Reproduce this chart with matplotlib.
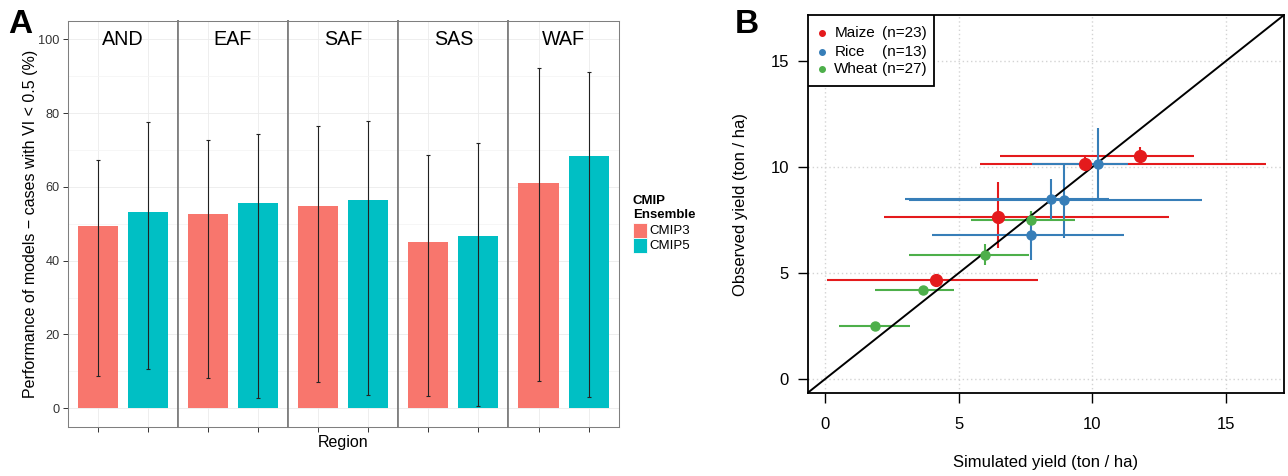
import numpy as np
import matplotlib
matplotlib.use("Agg")
import matplotlib.pyplot as plt
from matplotlib.patches import Rectangle

plt.rcParams['font.family'] = ['Liberation Sans', 'DejaVu Sans']

# panel A: share of models with VI < 0.5 per region
regions = ["AND", "EAF", "SAF", "SAS", "WAF"]
ensembles = ["CMIP3", "CMIP5"]
cmip3 = [49.3, 52.6, 54.9, 45.2, 61.0]
cmip5 = [53.2, 55.7, 56.6, 46.6, 68.4]
cmip3_lo = [8.7, 8.3, 7.0, 3.2, 7.3]
cmip3_hi = [67.4, 72.6, 76.6, 68.8, 92.2]
cmip5_lo = [10.7, 2.7, 3.7, 0.5, 3.1]
cmip5_hi = [77.5, 74.3, 78.0, 72.0, 91.3]
ens_colors = ["#F8766D", "#00BFC4"]

# panel B: simulated vs observed yield (ton / ha)
maize_sim = [11.78, 9.73, 6.46, 4.14]
maize_obs = [10.54, 10.16, 7.64, 4.69]
maize_sim_lo = [6.56, 5.79, 2.22, 0.06]
maize_sim_hi = [13.82, 16.5, 12.86, 7.97]
maize_obs_lo = [10.08, 9.9, 6.19, 4.69]
maize_obs_hi = [10.94, 10.45, 9.28, 4.69]

rice_sim = [10.22, 8.45, 8.92, 7.69]
rice_obs = [10.16, 8.5, 8.43, 6.79]
rice_sim_lo = [7.73, 3.0, 3.13, 3.99]
rice_sim_hi = [11.35, 10.61, 14.1, 11.2]
rice_obs_lo = [8.43, 7.53, 6.65, 5.61]
rice_obs_hi = [11.83, 9.45, 10.16, 7.92]

wheat_sim = [7.7, 5.99, 3.68, 1.86]
wheat_obs = [7.5, 5.87, 4.19, 2.5]
wheat_sim_lo = [5.44, 3.12, 1.86, 0.5]
wheat_sim_hi = [9.35, 7.61, 4.83, 3.19]
wheat_obs_lo = [7.3, 5.4, 4.19, 2.5]
wheat_obs_hi = [7.92, 6.35, 4.19, 2.5]

crops = ["Maize", "Rice", "Wheat"]
crop_n = ["(n=23)", "(n=13)", "(n=27)"]
crop_colors = ["#E41A1C", "#377EB8", "#4DAF4A"]

W, H = 1288, 476
fig = plt.figure(figsize=(W / 100, H / 100), dpi=100)

# ---- panel A: one axes per facet ----
left = 67.5
facet_w = (618.7 - 67.5) / 5
bottom = 1 - 426.7 / H
height = (426.7 - 21) / H
for i, reg in enumerate(regions):
    ax = fig.add_axes([(left + i * facet_w) / W, bottom, facet_w / W, height])
    vals = [cmip3[i], cmip5[i]]
    lo = [cmip3_lo[i], cmip5_lo[i]]
    hi = [cmip3_hi[i], cmip5_hi[i]]
    xs = np.arange(1, 3)
    ax.bar(xs, vals, width=0.8, color=ens_colors, zorder=2)
    yerr = [np.array(vals) - np.array(lo), np.array(hi) - np.array(vals)]
    ax.errorbar(xs, vals, yerr=yerr, fmt="none", ecolor="#222222",
                elinewidth=0.8, capsize=1.3, capthick=0.8, zorder=3)
    ax.set_xlim(0.4, 2.6)
    ax.set_ylim(-5, 105)
    ax.set_yticks(np.arange(0, 101, 20))
    ax.set_yticks(np.arange(10, 100, 20), minor=True)
    ax.set_xticks(xs)
    ax.set_xticklabels([])
    ax.grid(True, which="major", color="#ebebeb", lw=0.6, zorder=0)
    ax.grid(True, which="minor", axis="y", color="#f5f5f5", lw=0.6, zorder=0)
    ax.tick_params(axis="x", length=3.5, color="#333333", width=0.7)
    ax.tick_params(axis="y", which="minor", length=0)
    if i == 0:
        ax.tick_params(axis="y", length=3.5, color="#333333", width=0.7,
                       labelsize=9.2, labelcolor="#333333", pad=2)
    else:
        ax.tick_params(axis="y", length=0, labelleft=False)
    ax.text(1.5, 100, reg, ha="center", va="center", fontsize=14.2, zorder=4)
    for side in ["top", "bottom", "left", "right"]:
        ax.spines[side].set_color("#7f7f7f")
        ax.spines[side].set_linewidth(0.75)
    if i > 0:
        ax.spines["left"].set_linewidth(1.3)
    if i < len(regions) - 1:
        ax.spines["right"].set_linewidth(1.3)

fig.text(343 / W, 1 - 443 / H, "Region", ha="center", va="center", fontsize=11.5)
fig.text(31 / W, 1 - 224 / H, "Performance of models \u2212 cases with VI < 0.5 (%)",
         rotation=90, ha="center", va="center", fontsize=11.5)
fig.text(8 / W, 1 - 33 / H, "A", fontsize=24, fontweight="bold", va="baseline")

# legend for panel A
fig.text(632.7 / W, 1 - 204 / H, "CMIP", fontsize=9.5, fontweight="bold", va="baseline")
fig.text(632.7 / W, 1 - 218 / H, "Ensemble", fontsize=9.5, fontweight="bold", va="baseline")
for k, (lab, col) in enumerate(zip(ensembles, ens_colors)):
    y0 = 223.3 + k * 15
    fig.add_artist(Rectangle((632.7 / W, 1 - (y0 + 15) / H), 14.6 / W, 15 / H,
                             transform=fig.transFigure, facecolor=col,
                             edgecolor="white", lw=0.6))
    fig.text(649.3 / W, 1 - (y0 + 7.5) / H, lab, fontsize=9.5, va="center")

# ---- panel B ----
axb = fig.add_axes([807.5 / W, 1 - 393 / H, 476.5 / W, 378 / H])
lim = (-0.66, 17.17)
axb.set_xlim(lim)
axb.set_ylim(lim)
ticks = [0, 5, 10, 15]
axb.set_xticks(ticks)
axb.set_yticks(ticks)
for t in ticks:
    axb.axvline(t, color="#d3d3d3", lw=1.0, ls=(0, (1, 2)), zorder=0)
    axb.axhline(t, color="#d3d3d3", lw=1.0, ls=(0, (1, 2)), zorder=0)

series = [
    (maize_sim, maize_obs, maize_sim_lo, maize_sim_hi, maize_obs_lo, maize_obs_hi, 8.5),
    (rice_sim, rice_obs, rice_sim_lo, rice_sim_hi, rice_obs_lo, rice_obs_hi, 6.5),
    (wheat_sim, wheat_obs, wheat_sim_lo, wheat_sim_hi, wheat_obs_lo, wheat_obs_hi, 6.5),
]
for (sx, sy, xlo, xhi, ylo, yhi, ms), col in zip(series, crop_colors):
    sx = np.array(sx)
    sy = np.array(sy)
    xerr = [sx - np.array(xlo), np.array(xhi) - sx]
    yerr = [sy - np.array(ylo), np.array(yhi) - sy]
    axb.errorbar(sx, sy, xerr=xerr, yerr=yerr, fmt="none", ecolor=col,
                 elinewidth=1.5, capsize=0, zorder=2)
for (sx, sy, xlo, xhi, ylo, yhi, ms), col in zip(series, crop_colors):
    axb.plot(sx, sy, "o", color=col, ms=ms, mec=col, zorder=4)

axb.axline((0, 0), slope=1, color="black", lw=1.4, zorder=3)

for side in ["top", "bottom", "left", "right"]:
    axb.spines[side].set_linewidth(1.3)
axb.tick_params(axis="both", length=7.5, width=1.0, labelsize=12)
axb.tick_params(axis="x", pad=10)
axb.tick_params(axis="y", pad=6)

fig.text(1045.7 / W, 1 - 463 / H, "Simulated yield (ton / ha)", ha="center",
         va="center", fontsize=12)
fig.text(740 / W, 1 - 205 / H, "Observed yield (ton / ha)", rotation=90,
         ha="center", va="center", fontsize=12)
fig.text(735 / W, 1 - 33 / H, "B", fontsize=24, fontweight="bold", va="baseline")

# legend box for panel B
lb_w = (934 - 807.5) / 476.5
lb_b = (393 - 85.7) / 378
axb.add_patch(Rectangle((0, lb_b), lb_w, 1 - lb_b, transform=axb.transAxes,
                        facecolor="white", edgecolor="black", lw=1.3, zorder=5))
row_y = [(393 - y) / 378 for y in (33.3, 51.7, 69.3)]
for name, n, col, yy in zip(crops, crop_n, crop_colors, row_y):
    axb.plot([0.0298], [yy], "o", color=col, ms=4, transform=axb.transAxes,
             zorder=6, clip_on=False)
    axb.text(0.0562, yy, name, fontsize=11, va="center", transform=axb.transAxes, zorder=6)
    axb.text(0.156, yy, n, fontsize=11, va="center", transform=axb.transAxes, zorder=6)

fig.savefig("out.png", dpi=100)
